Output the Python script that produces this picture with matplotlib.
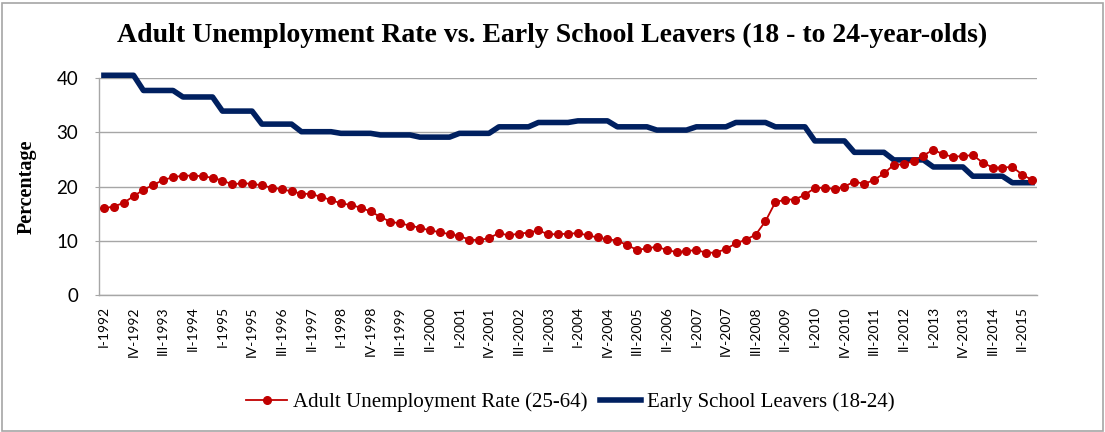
import matplotlib

matplotlib.use("Agg")
import matplotlib.pyplot as plt
from matplotlib.patches import Rectangle

# Quarterly labels I-1992 ... III-2015
ROMAN = ["I", "II", "III", "IV"]
quarters = [f"{ROMAN[q]}-{y}" for y in range(1992, 2016) for q in range(4)][:95]

# Adult unemployment rate (25-64)
adult_unemp = [
    16.0, 16.3, 17.0, 18.2, 19.4, 20.3, 21.2, 21.7, 22.0, 22.0,
    21.9, 21.6, 21.1, 20.4, 20.6, 20.5, 20.2, 19.8, 19.5, 19.1,
    18.7, 18.6, 18.1, 17.5, 16.9, 16.6, 16.1, 15.4, 14.4, 13.5,
    13.2, 12.8, 12.4, 11.9, 11.6, 11.2, 10.9, 10.2, 10.1, 10.5,
    11.4, 11.0, 11.3, 11.5, 11.9, 11.2, 11.2, 11.3, 11.4, 11.0,
    10.6, 10.3, 10.0, 9.2, 8.3, 8.6, 8.9, 8.3, 7.9, 8.1,
    8.3, 7.8, 7.8, 8.5, 9.5, 10.2, 11.1, 13.6, 17.1, 17.6,
    17.6, 18.5, 19.7, 19.8, 19.5, 20.0, 20.9, 20.5, 21.2, 22.4,
    24.0, 24.1, 24.7, 25.7, 26.8, 25.9, 25.5, 25.6, 25.8, 24.4,
    23.5, 23.5, 23.6, 22.2, 21.2,
]

# Early school leavers (18-24): annual figure, repeated for each quarter
leavers_years = list(range(1992, 2016))
leavers_annual = [
    40.5, 37.7, 36.5, 33.9, 31.5, 30.1, 29.8, 29.5, 29.1, 29.8,
    31.0, 31.8, 32.1, 31.0, 30.4, 31.0, 31.8, 31.0, 28.4, 26.3,
    24.9, 23.6, 21.9, 20.7,
]
early_leavers = [v for v in leavers_annual for _ in range(4)][:95]

RED = "#C00000"
NAVY = "#002060"
GRID = "#A6A6A6"

fig = plt.figure(figsize=(11.05, 4.32), dpi=100)
ax = fig.add_axes([99 / 1105, 1 - 295 / 432, (1037 - 99) / 1105, (295 - 78) / 432])

x = range(len(quarters))
ax.plot(x, adult_unemp, color=RED, lw=1.3, marker="o", ms=5.5,
        label="Adult Unemployment Rate (25-64)", clip_on=False, zorder=3)
ax.plot(x, early_leavers, color=NAVY, lw=4, solid_joinstyle="round",
        label="Early School Leavers (18-24)", clip_on=False, zorder=2)

ax.set_xlim(-0.5, len(quarters) - 0.5)
ax.set_ylim(0, 40)
ax.set_yticks([0, 10, 20, 30, 40])
ax.yaxis.grid(True, color=GRID, lw=1)
ax.set_axisbelow(True)
for s in ("top", "right"):
    ax.spines[s].set_visible(False)
for s in ("left", "bottom"):
    ax.spines[s].set_color(GRID)
    ax.spines[s].set_linewidth(1)

ticks = list(range(0, len(quarters), 3))
ax.set_xticks(ticks)
ax.set_xticklabels([quarters[i] for i in ticks], rotation=90, family="Lato", fontsize=10)
ax.tick_params(axis="x", length=0, pad=8)
ax.tick_params(axis="y", length=3, color=GRID, labelsize=13.5, pad=12)
for lab in ax.get_yticklabels():
    lab.set_family("Lato")

ax.set_ylabel("Percentage", family="Liberation Serif", fontweight="bold", fontsize=14.5, labelpad=14)

fig.text(0.5, 1 - 35 / 432, "Adult Unemployment Rate vs. Early School Leavers (18 - to 24-year-olds)",
         ha="center", va="center", family="Liberation Serif", fontweight="bold", fontsize=20)

ax.legend(loc="center", bbox_to_anchor=(570 / 1105, 1 - 402 / 432), bbox_transform=fig.transFigure,
          ncol=2, frameon=False, handlelength=2.0, columnspacing=0.6, handletextpad=0.25,
          prop={"family": "Liberation Serif", "size": 15})

fig.patches.append(Rectangle((2 / 1105, 1 / 432), 1101 / 1105, 428 / 432, transform=fig.transFigure,
                             fill=False, edgecolor=GRID, lw=1.2))

fig.savefig("out.png", dpi=100)
